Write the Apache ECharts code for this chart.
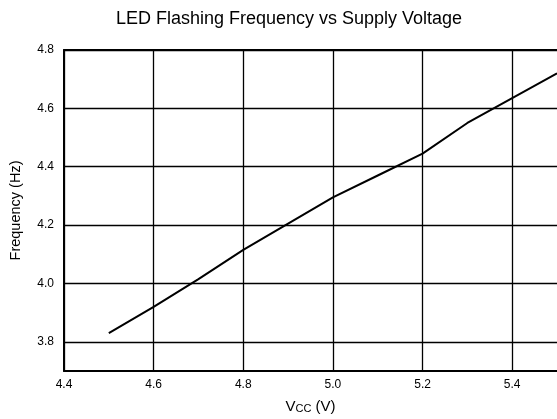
<!DOCTYPE html>
<html>
<head>
<meta charset="utf-8">
<script src="https://cdn.jsdelivr.net/npm/echarts@6/dist/echarts.min.js"></script>
<style>
html,body{margin:0;padding:0;background:#fff;}
#chart{width:557px;height:419px;}
</style>
</head>
<body>
<div id="chart"></div>
<script>
var voltage = [4.5, 4.6, 4.7, 4.8, 4.9, 5.0, 5.1, 5.2, 5.3, 5.4, 5.5];
var frequency = [3.83, 3.92, 4.015, 4.115, 4.205, 4.295, 4.37, 4.445, 4.55, 4.635, 4.72];
var xTicks = [4.4, 4.6, 4.8, 5.0, 5.2, 5.4];
var yTicks = [3.8, 4.0, 4.2, 4.4, 4.6, 4.8];

var FONT = 'Liberation Sans, Arial, sans-serif';
var chart = echarts.init(document.getElementById('chart'));
chart.setOption({
  animation: false,
  backgroundColor: '#fff',
  title: {
    text: 'LED Flashing Frequency vs Supply Voltage',
    left: 284, top: 5, textAlign: 'center',
    textStyle: {fontFamily: FONT, fontSize: 18, fontWeight: 'normal', color: '#000'}
  },
  grid: {left: 64, top: 50, right: 0, bottom: 47},
  xAxis: [{
    type: 'value', min: 4.4, max: 5.5,
    name: '{v|V}{s|CC}{v| (V)}', nameLocation: 'middle', nameGap: 28,
    nameTextStyle: {rich: {
      v: {fontFamily: FONT, fontSize: 15, color: '#000'},
      s: {fontFamily: FONT, fontSize: 11, color: '#000', padding: [4, 0, 0, 0]}
    }},
    axisLine: {show: true, onZero: false, lineStyle: {color: '#000', width: 2}},
    axisTick: {show: false, customValues: xTicks},
    axisLabel: {customValues: xTicks, fontFamily: FONT, fontSize: 12, color: '#000', margin: 8,
      formatter: function (v) { return v.toFixed(1); }},
    splitLine: {show: true, lineStyle: {color: '#000', width: 1.3}}
  }, {
    type: 'value', min: 4.4, max: 5.5, position: 'top',
    axisLine: {show: true, onZero: false, lineStyle: {color: '#000', width: 2}},
    axisTick: {show: false}, axisLabel: {show: false}, splitLine: {show: false}
  }],
  yAxis: {
    type: 'value', min: 3.7, max: 4.8,
    name: 'Frequency (Hz)', nameLocation: 'middle', nameGap: 41,
    nameTextStyle: {fontFamily: FONT, fontSize: 14.5, color: '#000'},
    axisLine: {show: true, onZero: false, lineStyle: {color: '#000', width: 2}},
    axisTick: {show: false, customValues: yTicks},
    axisLabel: {customValues: yTicks, fontFamily: FONT, fontSize: 12, color: '#000', margin: 10,
      formatter: function (v) { return v.toFixed(1); }},
    splitLine: {show: true, lineStyle: {color: '#000', width: 1.3}}
  },
  series: [{
    type: 'line',
    data: voltage.map(function (v, i) { return [v, frequency[i]]; }),
    showSymbol: false, symbol: 'none',
    lineStyle: {color: '#000', width: 2},
    clip: false
  }]
});
</script>
</body>
</html>
